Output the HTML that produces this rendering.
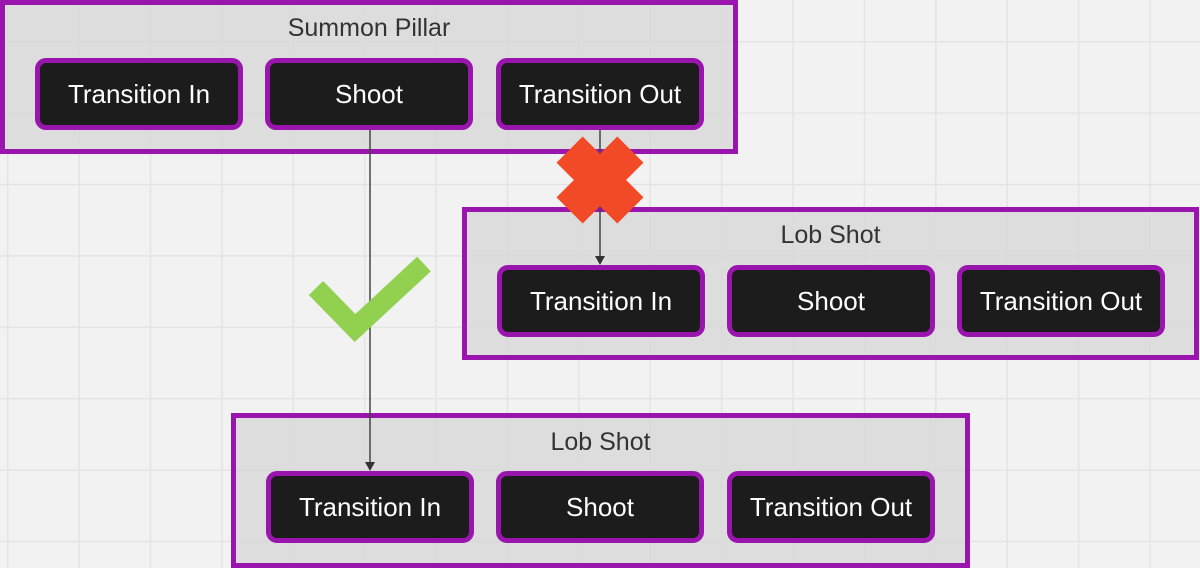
<!DOCTYPE html>
<html><head><meta charset="utf-8"><style>
html,body{margin:0;padding:0}
body{width:1200px;height:568px;position:relative;overflow:hidden;font-family:"Liberation Sans",sans-serif;
background-color:#f2f2f2;
background-image:linear-gradient(to right,#e4e4e4 1.5px,transparent 1.5px),linear-gradient(to bottom,#e4e4e4 1.5px,transparent 1.5px);
background-size:71.4px 71.4px;background-position:7px 41px;}
.g{position:absolute;box-sizing:border-box;border:5px solid #9a15ae;background-color:rgba(215,215,215,0.78)}
.t{position:absolute;left:0;right:0;text-align:center;font-size:25px;color:#333}
.n{position:absolute;box-sizing:border-box;width:208px;height:72px;border:5px solid #9a15ae;border-radius:11px;background:#1c1c1c;color:#fff;font-size:26px;display:flex;align-items:center;justify-content:center}
svg{position:absolute;left:0;top:0}
</style></head><body>
<div class="g" style="left:0;top:0;width:738px;height:154px"><div class="t" style="top:9px">Summon Pillar</div></div>
<div class="g" style="left:462px;top:207px;width:737px;height:153px"><div class="t" style="top:9px">Lob Shot</div></div>
<div class="g" style="left:231px;top:413px;width:739px;height:155px"><div class="t" style="top:10px">Lob Shot</div></div>

<div class="n" style="left:35px;top:58px">Transition In</div>
<div class="n" style="left:265px;top:58px">Shoot</div>
<div class="n" style="left:496px;top:58px">Transition Out</div>

<div class="n" style="left:497px;top:265px">Transition In</div>
<div class="n" style="left:727px;top:265px">Shoot</div>
<div class="n" style="left:957px;top:265px">Transition Out</div>

<div class="n" style="left:266px;top:471px">Transition In</div>
<div class="n" style="left:496px;top:471px">Shoot</div>
<div class="n" style="left:727px;top:471px">Transition Out</div>

<svg width="1200" height="568">
<line x1="370" y1="130" x2="370" y2="465" stroke="#444" stroke-width="1.5"/>
<polygon points="365,462 375,462 370,471" fill="#333"/>
<line x1="600" y1="130" x2="600" y2="259" stroke="#444" stroke-width="1.5"/>
<polygon points="595,256 605,256 600,265" fill="#333"/>
<g transform="translate(600,180)" fill="#f24a26">
<rect x="-43" y="-18.5" width="86" height="37" transform="rotate(45)"/>
<rect x="-43" y="-18.5" width="86" height="37" transform="rotate(-45)"/>
</g>
<polyline points="316,288 355,328 424,264" fill="none" stroke="#92d050" stroke-width="20"/>
</svg>
</body></html>
